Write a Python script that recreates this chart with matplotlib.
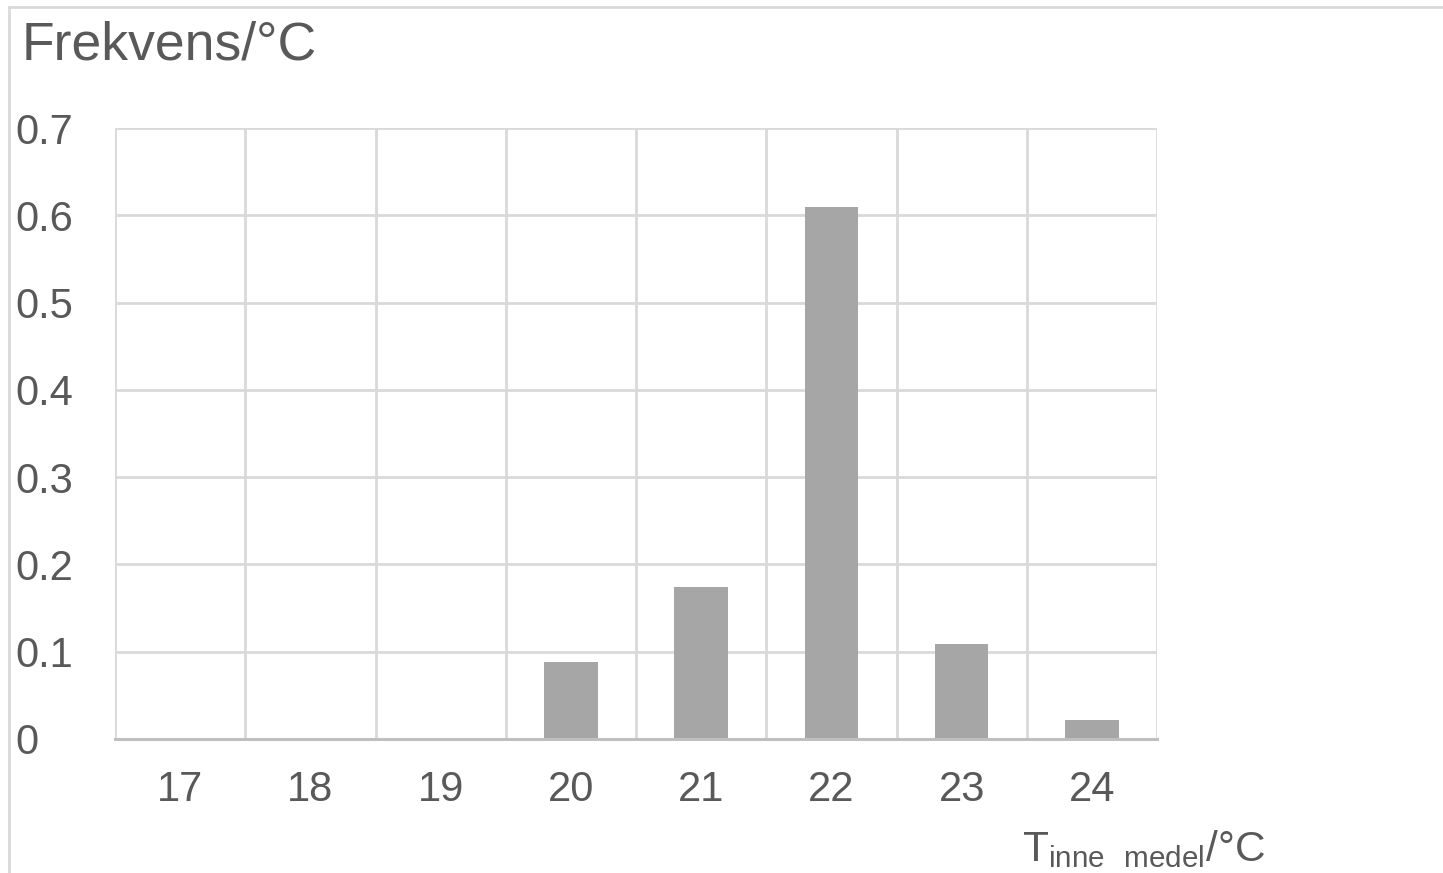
import matplotlib
matplotlib.use("Agg")
import matplotlib.pyplot as plt
from matplotlib.lines import Line2D

categories = ["17", "18", "19", "20", "21", "22", "23", "24"]
values = [0.0, 0.0, 0.0, 0.088, 0.174, 0.609, 0.109, 0.022]
yticks = [0, 0.1, 0.2, 0.3, 0.4, 0.5, 0.6, 0.7]
ytick_labels = ["0", "0.1", "0.2", "0.3", "0.4", "0.5", "0.6", "0.7"]

plt.rcParams['font.family'] = ['Liberation Sans', 'DejaVu Sans']
plt.rcParams['mathtext.fontset'] = 'custom'
plt.rcParams['mathtext.rm'] = 'Liberation Sans'
plt.rcParams['mathtext.default'] = 'regular'

W, H = 1443, 873
fig = plt.figure(figsize=(W / 100, H / 100), dpi=100)
fig.patch.set_facecolor("white")

L, R, T, B = 115, 1157, 128, 739
ax = fig.add_axes([L / W, 1 - B / H, (R - L) / W, (B - T) / H])

txt = "#595959"
grid = "#d9d9d9"

x = list(range(len(categories)))
ax.bar(x, values, width=0.41, color="#a6a6a6", zorder=3)

ax.set_xlim(-0.5, len(categories) - 0.5)
ax.set_ylim(0, 0.7)
ax.set_yticks(yticks)
ax.set_yticklabels(ytick_labels)
ax.set_xticks(x)
ax.set_xticklabels(categories)
ax.set_xticks([i - 0.5 for i in range(len(categories) + 1)], minor=True)

ax.grid(axis="y", which="major", color=grid, linewidth=2, zorder=0)
ax.grid(axis="x", which="minor", color=grid, linewidth=2, zorder=0)

for s in ["top", "right", "left"]:
    ax.spines[s].set_visible(False)
ax.spines["bottom"].set_color("#bfbfbf")
ax.spines["bottom"].set_linewidth(2.2)
ax.spines["bottom"].set_zorder(4)

ax.tick_params(axis="both", which="both", length=0, colors=txt)
ax.tick_params(axis="y", labelsize=30, pad=72)
ax.tick_params(axis="x", labelsize=30, pad=22)
for lab in ax.get_yticklabels():
    lab.set_horizontalalignment("left")

fig.text(22 / W, 1 - 46 / H, "Frekvens/°C", fontsize=38.5, color=txt, ha="left", va="center")
fig.text(1022 / W, 1 - 861 / H, r"T$_{inne\ \ medel}$/°C", fontsize=30.5, color=txt,
         ha="left", va="baseline")

# outer chart frame
fig.add_artist(Line2D([9 / W, 1.0], [1 - 7 / H, 1 - 7 / H], transform=fig.transFigure,
                      color=grid, linewidth=2))
fig.add_artist(Line2D([9 / W, 9 / W], [0, 1 - 7 / H], transform=fig.transFigure,
                      color=grid, linewidth=2))

fig.savefig("out.png", dpi=100, facecolor="white")
